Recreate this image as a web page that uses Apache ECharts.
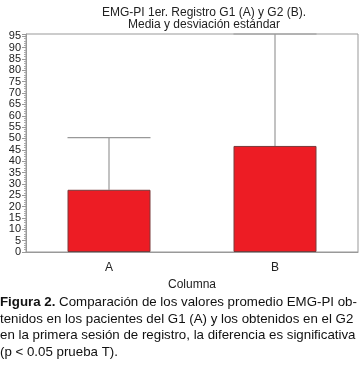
<!DOCTYPE html>
<html><head><meta charset="utf-8">
<script src="https://cdn.jsdelivr.net/npm/echarts@6/dist/echarts.min.js"></script>
<style>html,body{margin:0;padding:0;background:#fff}#c{width:361px;height:369px}</style>
</head><body><div id="c"></div>
<script>
var categories = ['A', 'B'];
var means = [27.4, 46.7];
var upperValues = [50.4, 96];
var titleLines = ['EMG-PI 1er. Registro G1 (A) y G2 (B).', 'Media y desviación estándar'];
var xName = 'Columna';
var captionLines = [
  ['Figura 2.', ' Comparación de los valores promedio EMG-PI ob-'],
  ['', 'tenidos en los pacientes del G1 (A) y los obtenidos en el G2'],
  ['', 'en la primera sesión de registro, la diferencia es significativa'],
  ['', '(p < 0.05 prueba T).']
];

var chart = echarts.init(document.getElementById('c'), null, {renderer: 'canvas'});
var font = 'Liberation Sans, Arial, sans-serif';
var errData = categories.map(function (c, i) { return [i, means[i], upperValues[i]]; });
var captionGraphics = captionLines.map(function (l, i) {
  return {
    type: 'text', left: 0, top: 296 + i * 16.5,
    style: {
      text: (l[0] ? '{b|' + l[0] + '}' : '') + '{n|' + l[1] + '}',
      rich: {
        b: {fontFamily: font, fontSize: 13.3, fontWeight: 'bold', fill: '#111'},
        n: {fontFamily: font, fontSize: 13.3, fill: '#111'}
      }
    }
  };
});

chart.setOption({
  animation: false,
  title: {
    text: titleLines.join('\n'), left: 199, top: 1, textAlign: 'center',
    textStyle: {fontFamily: font, fontSize: 12, fontWeight: 'normal', color: '#222', lineHeight: 12.5}
  },
  grid: {left: 26, right: 3, top: 34, bottom: 117, show: true, borderColor: '#999', borderWidth: 1},
  xAxis: {
    type: 'category', data: categories,
    name: xName, nameLocation: 'middle', nameGap: 27,
    nameTextStyle: {fontFamily: font, fontSize: 12, color: '#222'},
    axisLine: {lineStyle: {color: '#999'}},
    axisTick: {alignWithLabel: true, length: 4, lineStyle: {color: '#999'}},
    axisLabel: {fontFamily: font, fontSize: 12, color: '#222', margin: 10}
  },
  yAxis: {
    type: 'value', min: 0, max: 96, interval: 5,
    axisLine: {show: true, lineStyle: {color: '#999'}},
    axisTick: {show: true, length: 4, lineStyle: {color: '#999'}},
    minorTick: {show: true, splitNumber: 5, length: 2, lineStyle: {color: '#aaa'}},
    splitLine: {show: false},
    axisLabel: {fontFamily: font, fontSize: 11, color: '#222', margin: 5, showMaxLabel: false,
      formatter: function (v) { return v % 5 === 0 ? String(v) : ''; }}
  },
  series: [
    {
      type: 'bar', data: means, barWidth: '50%',
      itemStyle: {color: '#ED1C24', borderColor: '#7a3a3a', borderWidth: 1}
    },
    {
      type: 'custom', data: errData, z: 1,
      renderItem: function (params, api) {
        var x = api.value(0);
        var pLow = api.coord([x, api.value(1)]);
        var pHigh = api.coord([x, api.value(2)]);
        var half = api.size([1, 0])[0] * 0.25;
        var st = {stroke: '#999', lineWidth: 1.2};
        return {type: 'group', children: [
          {type: 'line', shape: {x1: pLow[0], y1: pLow[1], x2: pHigh[0], y2: pHigh[1]}, style: st},
          {type: 'line', shape: {x1: pHigh[0] - half, y1: pHigh[1], x2: pHigh[0] + half, y2: pHigh[1]}, style: st}
        ]};
      }
    }
  ],
  graphic: captionGraphics
});
</script></body></html>
